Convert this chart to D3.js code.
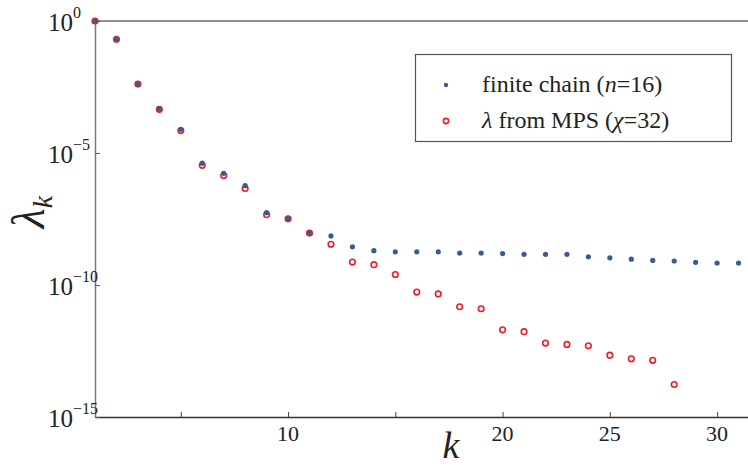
<!DOCTYPE html>
<html><head><meta charset="utf-8"><script src="https://cdn.jsdelivr.net/npm/d3@7"></script></head>
<body style="margin:0">
<script>
// data
const ks = d3.range(1, 32);
const finiteChain = [1, 0.204, 4.07e-3, 4.68e-4, 7.9e-5, 4.1e-6, 1.7e-6, 5.8e-7, 5.5e-8, 3.2e-8,
  9.3e-9, 7.2e-9, 2.8e-9, 2.0e-9, 1.8e-9, 1.8e-9, 1.8e-9, 1.6e-9, 1.6e-9, 1.55e-9,
  1.45e-9, 1.45e-9, 1.45e-9, 1.17e-9, 1.07e-9, 9.5e-10, 8.5e-10, 8.1e-10, 7.2e-10, 6.8e-10, 6.8e-10];
const mps = [1, 0.204, 4.07e-3, 4.5e-4, 7.1e-5, 3.4e-6, 1.4e-6, 4.5e-7, 4.6e-8, 3.2e-8,
  9.3e-9, 3.5e-9, 7.4e-10, 5.9e-10, 2.5e-10, 5.4e-11, 4.6e-11, 1.5e-11, 1.26e-11, 2.0e-12,
  1.7e-12, 6.3e-13, 5.6e-13, 5.0e-13, 2.2e-13, 1.6e-13, 1.4e-13, 1.7e-14];
const xTicks = [5, 10, 15, 20, 25, 30];
const xTickLabels = [10, 20, 25, 30];
const yTicks = [1, 1e-5, 1e-10, 1e-15];

const FONT = '"Liberation Serif"';
const width = 748, height = 467;
const margin = { top: 21, right: 0, bottom: 50, left: 95 };

const svg = d3.select('body')
  .append('svg')
   .attr('width', width)
   .attr('height', height)
   .style('display', 'block');

const x = d3.scaleLinear()
  .domain([1, 31.44])
  .range([margin.left, width - margin.right]);

const y = d3.scaleLog()
  .domain([1e-15, 1])
  .range([height - margin.bottom, margin.top]);

//top frame line
svg.append('line')
  .attr('x1', margin.left).attr('x2', width)
  .attr('y1', y(1)).attr('y2', y(1))
  .attr('stroke', '#6b6b6b').attr('stroke-width', 1.5);

//x axis: ticks only, labels drawn below
const xAxisGroup = svg.append('g')
  .attr('transform', `translate(0, ${y(1e-15)})`)
  .call(d3.axisBottom(x)
    .tickValues(xTicks)
    .tickSizeInner(-5)
    .tickSizeOuter(0)
    .tickFormat(''));

xAxisGroup.select('.domain').attr('stroke', '#333').attr('stroke-width', 1.5);
xAxisGroup.selectAll('.tick line').attr('stroke', '#444');

svg.append('g')
  .selectAll('text')
  .data(xTickLabels)
  .enter()
  .append('text')
   .style('font-family', FONT)
   .style('font-size', '22px')
   .attr('fill', '#222')
   .attr('text-anchor', 'middle')
   .attr('x', d => x(d))
   .attr('y', y(1e-15) + 24)
   .text(d => d);

//y axis
const yAxisGroup = svg.append('g')
  .attr('transform', `translate(${margin.left}, 0)`)
  .call(d3.axisLeft(y)
    .tickValues(yTicks)
    .tickSizeInner(-5)
    .tickSizeOuter(0)
    .tickFormat(''));

yAxisGroup.select('.domain').attr('stroke', '#7a7a7a').attr('stroke-width', 1.5);
yAxisGroup.selectAll('.tick line').attr('stroke', '#555');

yAxisGroup.selectAll('.tick').each(function(d) {
  const t = d3.select(this).append('text')
    .style('font-family', FONT)
    .style('font-size', '25px')
    .attr('x', -47)
    .attr('y', 9)
    .attr('fill', '#222')
    .attr('text-anchor', 'start');
  t.append('tspan').text('10');
  t.append('tspan')
    .attr('dy', -13)
    .style('font-size', '16px')
    .text(d === 1 ? '0' : '\u2212' + Math.round(-Math.log10(d)));
});

//markers: red open circles behind, blue dots on top
svg.append('g')
  .selectAll('circle')
  .data(mps)
  .enter()
  .append('circle')
   .attr('cx', (d, i) => x(ks[i]))
   .attr('cy', d => y(d))
   .attr('r', 2.8)
   .attr('fill', 'none')
   .attr('stroke', '#ec1c2a')
   .attr('stroke-width', 1.6);

svg.append('g')
  .selectAll('circle')
  .data(finiteChain)
  .enter()
  .append('circle')
   .attr('cx', (d, i) => x(ks[i]))
   .attr('cy', d => y(d))
   .attr('r', 2.6)
   .attr('fill', '#3e5a8c');

//axis labels
const yLabel = svg.append('text')
  .style('font-family', FONT)
  .style('font-size', '46px')
  .style('font-style', 'italic')
  .attr('transform', `translate(44, 212) rotate(-90)`)
  .attr('text-anchor', 'middle')
  .attr('fill', '#222');
yLabel.append('tspan').text('\u03bb');
yLabel.append('tspan').attr('dy', 8).style('font-size', '28px').text('k');

svg.append('text')
  .style('font-family', FONT)
  .style('font-size', '38px')
  .style('font-style', 'italic')
  .attr('x', 451).attr('y', 458)
  .attr('text-anchor', 'middle')
  .attr('fill', '#222')
  .text('k');

//legend
const legend = svg.append('g');
legend.append('rect')
  .attr('x', 415.5).attr('y', 54.5)
  .attr('width', 316).attr('height', 87)
  .attr('fill', '#fff')
  .attr('stroke', '#555').attr('stroke-width', 1.2);

legend.append('circle')
  .attr('cx', 446).attr('cy', 85)
  .attr('r', 2.2)
  .attr('fill', '#3e5a8c');
legend.append('circle')
  .attr('cx', 446).attr('cy', 121)
  .attr('r', 2.6)
  .attr('fill', 'none')
  .attr('stroke', '#ec1c2a').attr('stroke-width', 1.6);

const l1 = legend.append('text')
  .style('font-family', FONT)
  .style('font-size', '24px')
  .attr('x', 482).attr('y', 92)
  .attr('fill', '#222');
l1.append('tspan').text('finite chain (');
l1.append('tspan').style('font-style', 'italic').text('n');
l1.append('tspan').text('=16)');

const l2 = legend.append('text')
  .style('font-family', FONT)
  .style('font-size', '24px')
  .attr('x', 482).attr('y', 128)
  .attr('fill', '#222');
l2.append('tspan').style('font-style', 'italic').text('\u03bb');
l2.append('tspan').text(' from MPS (');
l2.append('tspan').style('font-style', 'italic').text('\u03c7');
l2.append('tspan').text('=32)');
</script>
</body>
</html>
